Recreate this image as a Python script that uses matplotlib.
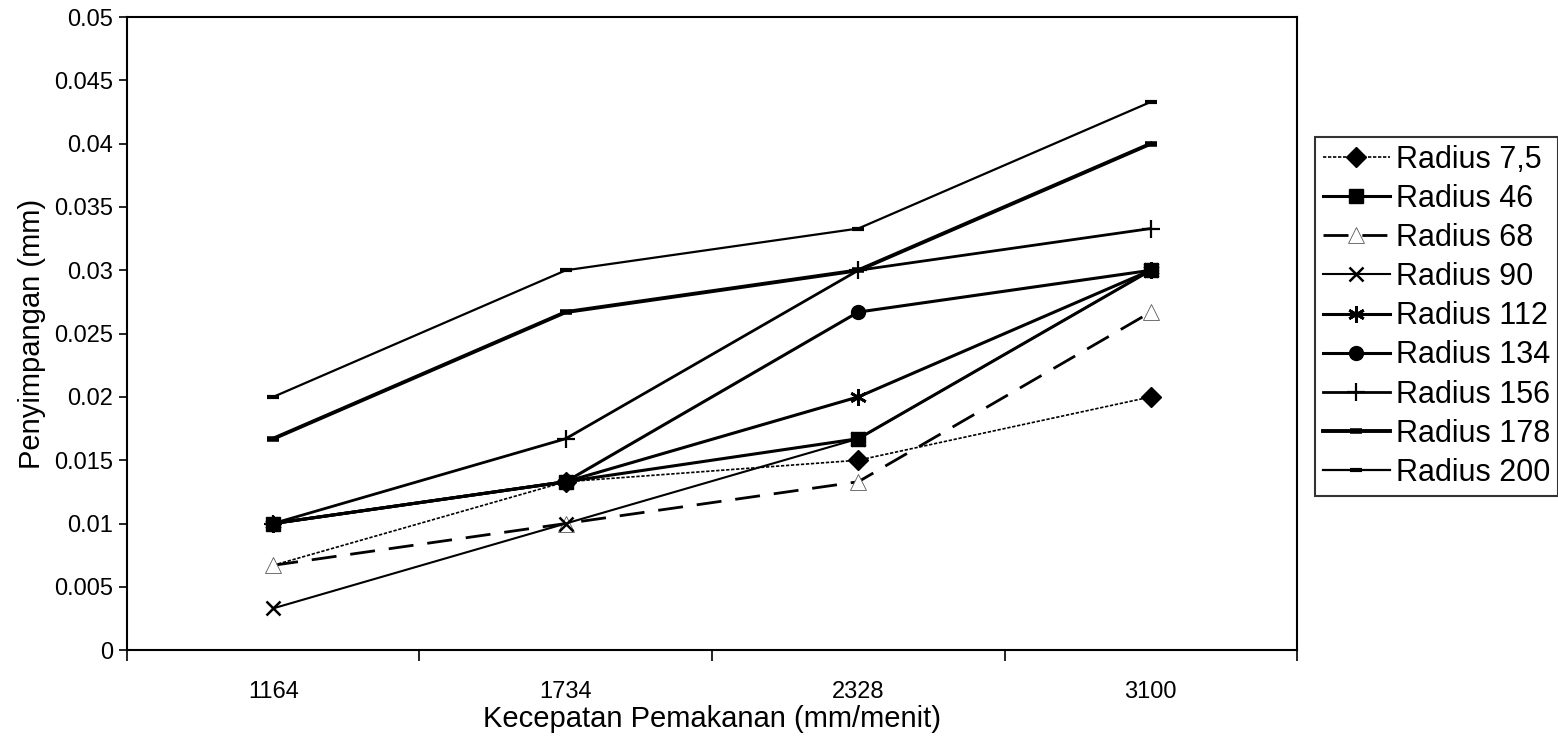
import matplotlib.pyplot as plt
import matplotlib
import numpy as np

matplotlib.rc("font", family='Liberation Sans')

kecepatan = ['1164', '1734', '2328', '3100']

r7_5 = [0.0067, 0.0133, 0.015, 0.02]
r46 = [0.01, 0.0133, 0.0167, 0.03]
r68 = [0.0067, 0.01, 0.0133, 0.0267]
r90 = [0.0033, 0.01, 0.0167, 0.03]
r112 = [0.01, 0.0133, 0.02, 0.03]
r134 = [0.01, 0.0133, 0.0267, 0.03]
r156 = [0.01, 0.0167, 0.03, 0.0333]
r178 = [0.0167, 0.0267, 0.03, 0.04]
r200 = [0.02, 0.03, 0.0333, 0.0433]

x = np.arange(len(kecepatan))

fig = plt.figure(figsize=(15.58, 7.43), dpi=100)
ax = fig.add_axes([0.0815, 0.125, 0.751, 0.852])

# diamond at the first point sits under the white triangle of radius 68
ax.plot(x, r7_5, color='k', lw=1.2, ls=(0, (2, 1)), marker='D', ms=10, markevery=[1, 2, 3],
        label='Radius 7,5')
ax.plot(x, r46, color='k', lw=2.2, marker='s', ms=10, label='Radius 46')
ax.plot(x, r68, color='k', lw=2.0, ls=(0, (9, 5)), marker='^', ms=12, mfc='white', mec='0.35',
        mew=0.6, label='Radius 68')
ax.plot(x, r90, color='k', lw=1.5, marker='x', ms=10, mew=1.8, label='Radius 90')
ax.plot(x, r112, color='k', lw=2.2, marker=(6, 2, 0), ms=12, mew=2.0, label='Radius 112')
ax.plot(x, r134, color='k', lw=2.2, marker='o', ms=10, label='Radius 134')
ax.plot(x, r156, color='k', lw=2.0, marker='+', ms=13, mew=1.6, label='Radius 156')
ax.plot(x, r178, color='k', lw=2.8, marker='_', ms=9, mew=4, label='Radius 178')
ax.plot(x, r200, color='k', lw=1.6, marker='_', ms=9, mew=3, label='Radius 200')

ax.set_xlim(-0.5, 3.5)
ax.set_ylim(0, 0.05)
ax.set_yticks(np.arange(0, 0.0501, 0.005))
ax.set_yticklabels(['0', '0.005', '0.01', '0.015', '0.02', '0.025', '0.03',
                    '0.035', '0.04', '0.045', '0.05'])
ax.set_xticks(x)
ax.set_xticklabels(kecepatan)
ax.set_xticks(np.arange(-0.5, 3.6, 1), minor=True)
ax.tick_params(axis='x', which='major', length=0, pad=22, labelsize=17)
ax.tick_params(axis='x', which='minor', length=8, width=1.2, direction='out')
ax.tick_params(axis='y', length=6, width=1.2, direction='out', labelsize=17, pad=4)

for s in ax.spines.values():
    s.set_linewidth(1.5)
    s.set_color('k')

ax.set_xlabel('Kecepatan Pemakanan (mm/menit)', fontsize=21, labelpad=2)
ax.set_ylabel('Penyimpangan (mm)', fontsize=21, labelpad=6)

leg = ax.legend(loc='upper left', bbox_to_anchor=(1315 / 1558, 1 - 137 / 743),
                bbox_transform=fig.transFigure, fontsize=22, frameon=True,
                fancybox=False, edgecolor='k', handlelength=2.2, handletextpad=0.2,
                labelspacing=0.3, borderpad=0.25, borderaxespad=0)
leg.get_frame().set_linewidth(1.5)

plt.savefig('out.png', dpi=100, facecolor='white')
